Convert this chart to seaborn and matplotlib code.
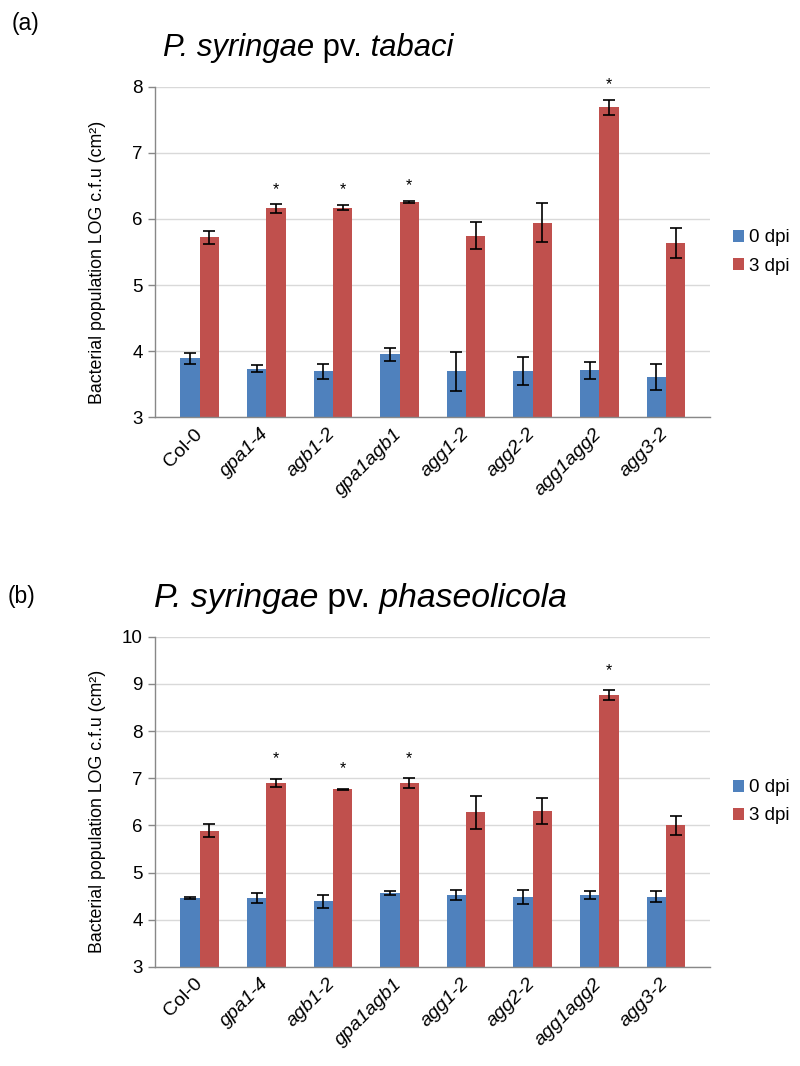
import matplotlib
matplotlib.use("Agg")
import matplotlib.pyplot as plt
import matplotlib.transforms as mtransforms
import seaborn as sns
import pandas as pd

# genotypes on the x axis
genotypes = ['Col-0', 'gpa1-4', 'agb1-2', 'gpa1agb1', 'agg1-2', 'agg2-2', 'agg1agg2', 'agg3-2']
days = ['0 dpi', '3 dpi']

# (a) P. syringae pv. tabaci
tabaci_0dpi = [3.89, 3.73, 3.69, 3.95, 3.69, 3.70, 3.71, 3.61]
tabaci_0dpi_err = [0.08, 0.055, 0.12, 0.10, 0.30, 0.21, 0.13, 0.20]
tabaci_3dpi = [5.72, 6.16, 6.17, 6.26, 5.75, 5.945, 7.69, 5.64]
tabaci_3dpi_err = [0.10, 0.065, 0.04, 0.015, 0.21, 0.295, 0.12, 0.23]

# (b) P. syringae pv. phaseolicola
phaseo_0dpi = [4.46, 4.465, 4.39, 4.57, 4.52, 4.49, 4.53, 4.49]
phaseo_0dpi_err = [0.02, 0.11, 0.13, 0.04, 0.11, 0.15, 0.09, 0.11]
phaseo_3dpi = [5.89, 6.90, 6.77, 6.90, 6.28, 6.30, 8.76, 6.00]
phaseo_3dpi_err = [0.13, 0.08, 0.01, 0.10, 0.35, 0.27, 0.10, 0.20]

# genotypes marked significant (*)
significant = ['gpa1-4', 'agb1-2', 'gpa1agb1', 'agg1agg2']

BLUE = '#4F81BD'
RED = '#C0504D'
GRID = '#D9D9D9'
AXIS = '#888888'

sns.set_style('white')
plt.rcParams['font.family'] = ['Liberation Sans', 'DejaVu Sans']
plt.rcParams['text.color'] = 'black'
plt.rcParams['axes.labelcolor'] = 'black'
plt.rcParams['xtick.labelcolor'] = 'black'
plt.rcParams['ytick.labelcolor'] = 'black'


def draw_panel(fig, ax, vals0, err0, vals3, err3, ylim, star_offset):
    df = pd.DataFrame({
        'genotype': genotypes * 2,
        'day': [days[0]] * len(genotypes) + [days[1]] * len(genotypes),
        'value': vals0 + vals3,
    })
    sns.barplot(data=df, x='genotype', y='value', hue='day', order=genotypes,
                hue_order=days, palette=[BLUE, RED], width=0.58, errorbar=None,
                linewidth=0, saturation=1, ax=ax, zorder=2)

    # error bars and asterisks on the library's bar positions
    for cont, vals, errs in zip(ax.containers, [vals0, vals3], [err0, err3]):
        xs = [b.get_x() + b.get_width() / 2 for b in cont]
        ax.errorbar(xs, vals, yerr=errs, fmt='none', ecolor='black',
                    elinewidth=1.2, capsize=4, capthick=1.2, zorder=3)
    xs3 = [b.get_x() + b.get_width() / 2 for b in ax.containers[1]]
    for g, x, v, e in zip(genotypes, xs3, vals3, err3):
        if g in significant:
            ax.annotate('*', (x, v + e), xytext=(0, star_offset),
                        textcoords='offset pixels', ha='center', va='center',
                        fontsize=11.5)

    ax.set_ylim(*ylim)
    ax.set_yticks(range(ylim[0], ylim[1] + 1))
    ax.yaxis.grid(True, color=GRID, linewidth=1)
    ax.set_axisbelow(True)
    for s in ['top', 'right']:
        ax.spines[s].set_visible(False)
    for s in ['left', 'bottom']:
        ax.spines[s].set_color(AXIS)
        ax.spines[s].set_linewidth(1)
    ax.tick_params(axis='y', length=5, width=1, color=AXIS, labelsize=13.5, pad=4,
                   direction='out', left=True)
    ax.tick_params(axis='x', length=0, labelsize=14, pad=6)
    ax.set_xlabel('')
    ax.set_ylabel('Bacterial population LOG c.f.u (cm²)', fontsize=12.8)
    ax.yaxis.set_label_coords(-0.088, 0.47)

    ax.set_xticks(range(len(genotypes)))
    ax.set_xticklabels(genotypes, rotation=45, ha='right', rotation_mode='anchor')
    shift = mtransforms.ScaledTranslation(-6 / 100, 0, fig.dpi_scale_trans)
    for lab in ax.get_xticklabels():
        lab.set_transform(lab.get_transform() + shift)
        if lab.get_text() != 'Col-0':
            lab.set_fontstyle('italic')

    ax.legend(loc='center left', bbox_to_anchor=(1.0, 0.5), frameon=False,
              fontsize=13.5, handlelength=0.6, handleheight=0.6,
              handletextpad=0.25, labelspacing=0.6, borderaxespad=0.8)


def panel_title(fig, x, y, species, pathovar, size):
    # italic / upright / italic pieces laid out one after the other
    renderer = fig.canvas.get_renderer()
    pieces = [(species, 'italic'), (' pv.', 'normal'), (' ' + pathovar, 'italic')]
    for txt, style in pieces:
        t = fig.text(x, y, txt, fontsize=size, fontstyle=style,
                     va='baseline', ha='left')
        bb = t.get_window_extent(renderer)
        x += bb.width / fig.bbox.width


fig = plt.figure(figsize=(8, 10.66), dpi=100)
ax_a = fig.add_axes([0.194, 0.6088, 0.694, 0.3096])
ax_b = fig.add_axes([0.194, 0.0929, 0.694, 0.3099])

draw_panel(fig, ax_a, tabaci_0dpi, tabaci_0dpi_err, tabaci_3dpi, tabaci_3dpi_err, (3, 8), 15)
draw_panel(fig, ax_b, phaseo_0dpi, phaseo_0dpi_err, phaseo_3dpi, phaseo_3dpi_err, (3, 10), 20)

fig.text(0.014, 0.978, '(a)', fontsize=16.5, va='center', ha='left')
panel_title(fig, 163 / 800, 1 - 56 / 1066, 'P. syringae', 'tabaci', 22.3)
fig.text(0.010, 1 - 596 / 1066, '(b)', fontsize=16.5, va='center', ha='left')
panel_title(fig, 154 / 800, 1 - 607 / 1066, 'P. syringae', 'phaseolicola', 24.3)

fig.savefig('out.png', dpi=100)
